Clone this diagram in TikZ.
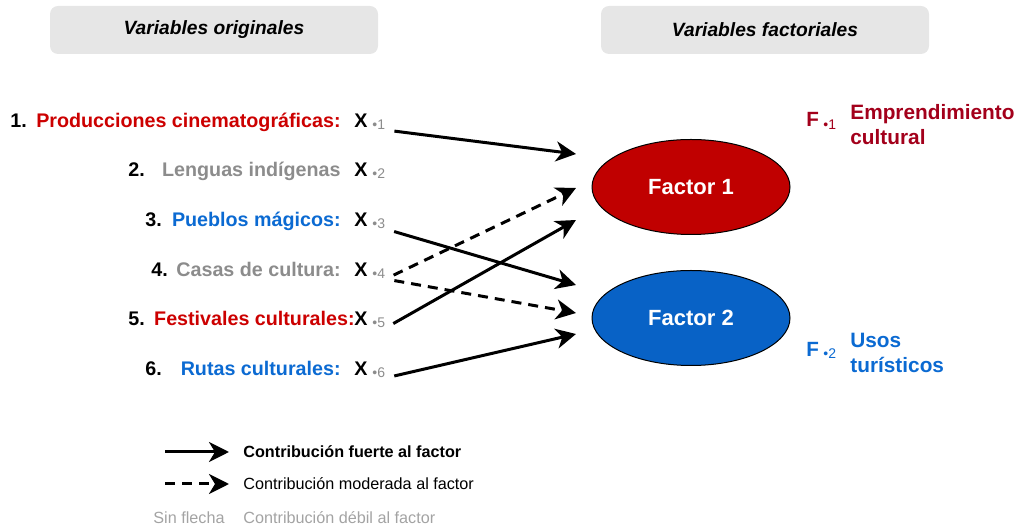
\documentclass[tikz,border=0pt]{standalone}
\usepackage{fontspec}
\setmainfont{Liberation Sans}
\usepackage{tikz}
\usetikzlibrary{arrows.meta, shapes.geometric}

\definecolor{rojo}{HTML}{CC0000}
\definecolor{rojofac}{HTML}{C00000}
\definecolor{rojof}{HTML}{A3001B}
\definecolor{azul}{HTML}{0B6AD2}
\definecolor{azulfac}{HTML}{0862C6}
\definecolor{gris}{HTML}{8C8C8C}
\definecolor{griscaja}{HTML}{E6E6E6}

\begin{document}
\begin{tikzpicture}[x=0.5pt, y=-0.5pt,
   every node/.style={inner sep=0pt, font=\fontsize{9.85}{11.5}\selectfont\bfseries},
   caja/.style={rectangle, rounded corners=4pt, fill=griscaja, minimum width=164pt, minimum height=24pt,
      font=\fontsize{9.6}{11}\selectfont\bfseries\itshape},
   sub/.style={text=gris, font=\fontsize{7}{8}\selectfont},
   factor/.style={ellipse, draw, line width=0.5pt, minimum width=99pt, minimum height=47.5pt, text=white,
      font=\fontsize{11}{13}\selectfont\bfseries},
   leyenda/.style={font=\fontsize{8.1}{10}\selectfont},
   fuerte/.style={line width=1.5pt, -{Stealth[length=10pt, width=10pt, inset=3pt]}, shorten <=4.5pt},
   moderada/.style={fuerte, dash pattern=on 5pt off 3.5pt}]
   \useasboundingbox (0,0) rectangle (1023,528);

   % encabezados
   \node(orig) at (214,30) [caja] {Variables originales};
   \node(fact) at (765,30) [caja] {Variables factoriales};

   % variables originales
   \node(n1) at (10,128) [anchor=base west] {1.};
   \node(v1) at (341,128) [anchor=base east, text=rojo] {Producciones cinematográficas:};
   \node(x1) at (354,128) [anchor=base west] {X};
   \node(s1) at (372,130) [sub, anchor=base west] {•1};

   \node(n2) at (128,177) [anchor=base west] {2.};
   \node(v2) at (341,177) [anchor=base east, text=gris] {Lenguas indígenas};
   \node(x2) at (354,177) [anchor=base west] {X};
   \node(s2) at (372,179) [sub, anchor=base west] {•2};

   \node(n3) at (145,227) [anchor=base west] {3.};
   \node(v3) at (341,227) [anchor=base east, text=azul] {Pueblos mágicos:};
   \node(x3) at (354,227) [anchor=base west] {X};
   \node(s3) at (372,229) [sub, anchor=base west] {•3};

   \node(n4) at (151,277) [anchor=base west] {4.};
   \node(v4) at (341,277) [anchor=base east, text=gris] {Casas de cultura:};
   \node(x4) at (354,277) [anchor=base west] {X};
   \node(s4) at (372,279) [sub, anchor=base west] {•4};

   \node(n5) at (128,326) [anchor=base west] {5.};
   \node(v5) at (355,326) [anchor=base east, text=rojo] {Festivales culturales:};
   \node(x5) at (354,326) [anchor=base west] {X};
   \node(s5) at (372,328) [sub, anchor=base west] {•5};

   \node(n6) at (145,376) [anchor=base west] {6.};
   \node(v6) at (341,376) [anchor=base east, text=azul] {Rutas culturales:};
   \node(x6) at (354,376) [anchor=base west] {X};
   \node(s6) at (372,378) [sub, anchor=base west] {•6};

   % factores
   \node(f1) at (691,187) [factor, fill=rojofac] {Factor 1};
   \node(f2) at (691,318) [factor, fill=azulfac] {Factor 2};
   \coordinate(f1a) at (576,154);
   \coordinate(f1b) at (576,188);
   \coordinate(f1c) at (576,220);
   \coordinate(f2a) at (576,285);
   \coordinate(f2b) at (576,313);
   \coordinate(f2c) at (576,334);

   \node(F1) at (806,127) [anchor=base west, text=rojof, font=\fontsize{10.3}{12}\selectfont\bfseries] {F};
   \node(t1) at (823,130) [sub, anchor=base west, text=rojof] {•1};
   \node(e1) at (850,125) [anchor=west, align=left, text=rojof, font=\fontsize{10.4}{12.5}\selectfont\bfseries] {Emprendimiento\\cultural};
   \node(F2) at (806,357) [anchor=base west, text=azul, font=\fontsize{10.3}{12}\selectfont\bfseries] {F};
   \node(t2) at (823,359) [sub, anchor=base west, text=azul] {•2};
   \node(e2) at (850,353) [anchor=west, align=left, text=azul, font=\fontsize{10.4}{12.5}\selectfont\bfseries] {Usos\\turísticos};

   % cargas
   \draw [fuerte] (s1.base east) to (f1a) ;
   \draw [fuerte] (s3.base east) to (f2a) ;
   \draw [moderada] (s4.base east) to (f1b) ;
   \draw [moderada] (s4.base east) to (f2b) ;
   \draw [fuerte] (s5.base east) to (f1c) ;
   \draw [fuerte] (s6.base east) to (f2c) ;

   % leyenda
   \coordinate(l1a) at (165,452);
   \coordinate(l1b) at (229,452);
   \coordinate(l2a) at (165,484);
   \coordinate(l2b) at (229,484);
   \draw [fuerte, shorten <=0pt] (l1a) to (l1b) ;
   \draw [moderada, shorten <=0pt] (l2a) to (l2b) ;
   \node(c1) at (243,452) [anchor=west, leyenda, font=\fontsize{8.1}{10}\selectfont\bfseries] {Contribución fuerte al factor};
   \node(c2) at (243,484) [anchor=west, leyenda] {Contribución moderada al factor};
   \node(c3a) at (153,518) [anchor=west, leyenda, text=gris!80] {Sin flecha};
   \node(c3) at (243,518) [anchor=west, leyenda, text=gris!80] {Contribución débil al factor};
\end{tikzpicture}
\end{document}
